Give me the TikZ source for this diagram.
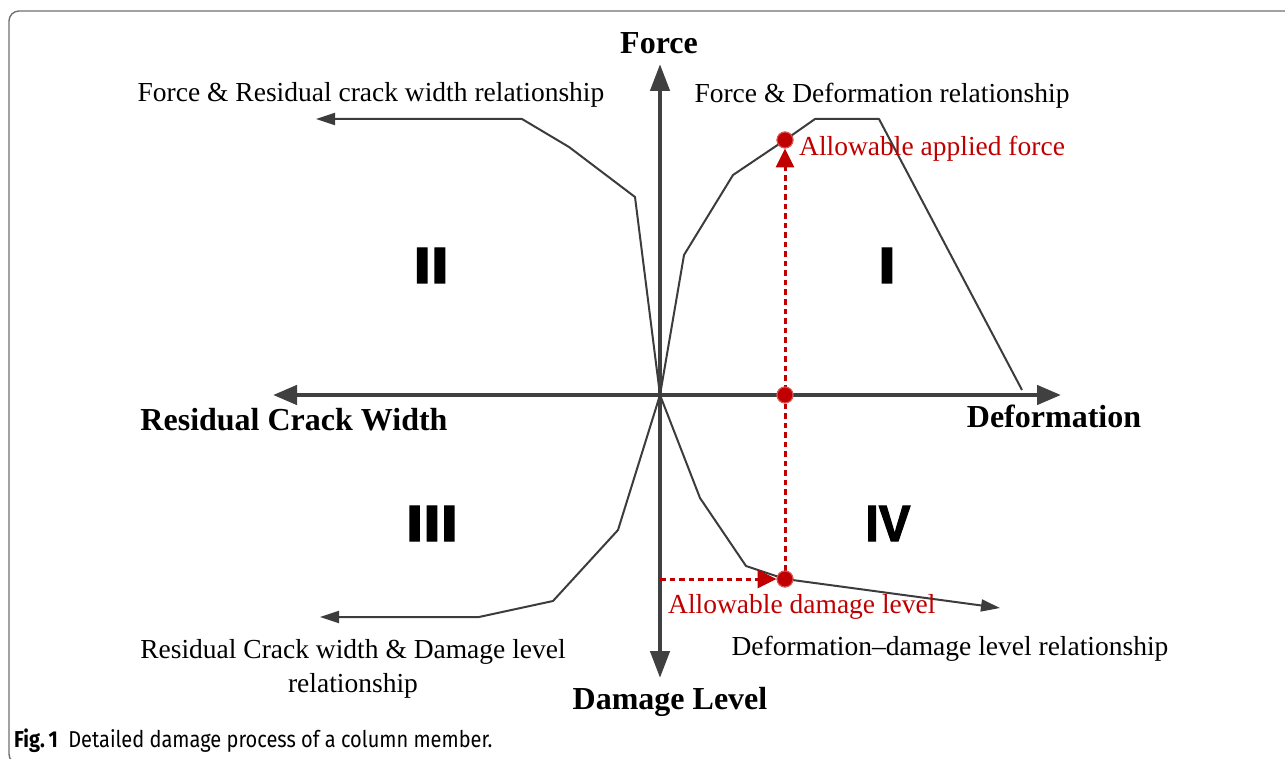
\documentclass[tikz,border=0pt]{standalone}
\usepackage{fontspec}
\usepackage{graphicx}
\setmainfont{Liberation Serif}
\newfontfamily\romfont[BoldFeatures={FakeBold=2.5}]{Liberation Sans}
\newfontfamily\capfont[FakeStretch=0.87]{Fira Sans}
\usetikzlibrary{arrows.meta}
\definecolor{axisgray}{HTML}{404040}
\definecolor{curvegray}{HTML}{3C3C3C}
\definecolor{darkred}{HTML}{C00000}
\definecolor{dotedge}{HTML}{D85858}
\definecolor{framegray}{HTML}{707070}
\tikzset{
  axisline/.style={line width=4.5pt, axisgray},
  curve/.style={line width=2pt, curvegray, line join=round},
  curvearrow/.style={curve, -{Triangle[length=19pt,width=12pt]}},
  reddash/.style={darkred, line width=3pt, dash pattern=on 5.5pt off 4pt,
    -{Triangle[length=19pt,width=18pt]}},
  reddot/.style={circle, fill=darkred, draw=dotedge, line width=1pt,
    minimum size=16pt, inner sep=0pt},
  boldlab/.style={font=\fontsize{32}{36}\selectfont\bfseries, anchor=base, inner sep=0pt},
  lab/.style={font=\fontsize{27.5}{32}\selectfont, anchor=base, inner sep=0pt},
  redlab/.style={lab, text=darkred},
  romlab/.style={font=\romfont\bfseries\fontsize{51}{51}\selectfont, anchor=base, inner sep=0pt},
}
\begin{document}
\begin{tikzpicture}[x=1pt,y=-1pt]
\useasboundingbox (0,0) rectangle (1285,759);
% frame
\draw[framegray, line width=1.4pt, rounded corners=10pt] (40,764) -- (9,764) -- (9,11) -- (1300,11);

% axes
\coordinate (O) at (660,395);
\coordinate (ytop) at (660,64);
\coordinate (ybot) at (660,678);
\coordinate (xleft) at (273,395);
\coordinate (xright) at (1061,395);
\draw[axisline, {Triangle[length=27pt,width=19pt]}-{Triangle[length=27pt,width=19pt]}] (ybot) -- (ytop);
\draw[axisline, {Triangle[length=24pt,width=19pt]}-{Triangle[length=24pt,width=19pt]}] (xleft) -- (xright);

% points
\node[reddot] (dotF) at (785,140) {};
\node[reddot] (dotX) at (785,395) {};
\node[reddot] (dotD) at (785,579) {};
\coordinate (dlaxis) at (660,579);

% curves
\draw[curve] (O) -- (684,255) -- (733,175) -- (dotF.center) -- (815,119) -- (879,119) -- (1022,390);
\draw[curvearrow] (O) -- (635,197) -- (569,147) -- (522,119) -- (316,119);
\draw[curvearrow] (O) -- (618,530) -- (553,601) -- (479,617) -- (320,617);
\draw[curvearrow] (O) -- (700,498) -- (746,566) -- (dotD.center) -- (1000,608);

% red dashed arrows
\draw[reddash] (dotD.north) -- (dotF.south);
\draw[reddash] (dlaxis) -- (dotD.west);

% redraw dots on top
\node[reddot] at (dotF) {};
\node[reddot] at (dotX) {};
\node[reddot] at (dotD) {};

% axis labels
\node[boldlab] (tForce) at (659,54) {Force};
\node[boldlab] (tRCW) at (294,430) {Residual Crack Width};
\node[boldlab] (tDef) at (1054,427) {Deformation};
\node[boldlab] (tDL) at (670,709) {Damage Level};

% relationship labels
\node[lab] (tQ2) at (371,102) {Force \& Residual crack width relationship};
\node[lab] (tQ1) at (882,103) {Force \& Deformation relationship};
\node[lab] (tQ4) at (950,655) {Deformation–damage level relationship};
\node[lab] (tQ3) at (353,658) {Residual Crack width \& Damage level};
\node[lab] (tQ3b) at (353,692) {relationship};

% red labels
\node[redlab, anchor=base west] (tAF) at (799,156) {Allowable applied force};
\node[redlab, anchor=base west] (tAD) at (668,613) {Allowable damage level};

% quadrant numerals
\node[romlab] (rI) at (887,283) {\scalebox{1.25}[1]{I}};
\node[romlab] (rII) at (431,283) {\scalebox{1.25}[1]{II}};
\node[romlab] (rIII) at (432,541) {\scalebox{1.22}[1]{III}};
\node[romlab] (rIV) at (888,541) {\scalebox{0.93}[1]{IV}};

% caption
\node[anchor=base west, inner sep=0pt, font=\capfont\fontsize{23}{26}\selectfont] (cap) at (14,747)
  {\textbf{Fig.\,1}\hspace{0.45em}Detailed damage process of a column member.};
\end{tikzpicture}
\end{document}
